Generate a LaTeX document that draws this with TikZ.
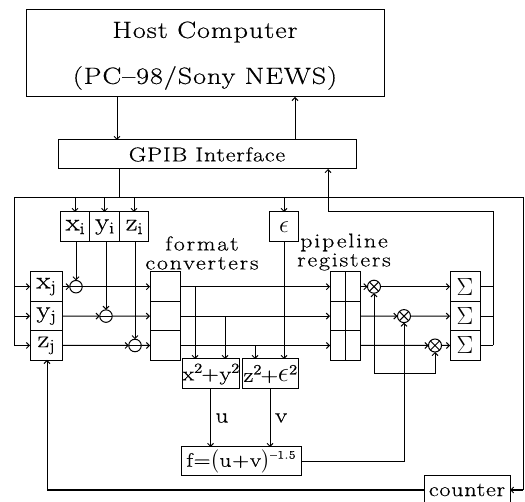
\documentclass[tikz,border=0pt]{standalone}
\usepackage{amsmath,amssymb}
\usepackage{fontspec}
\setmainfont{Latin Modern Roman}[FakeStretch=1.2,LetterSpace=4,FakeBold=0.5]
\usepackage{tikz}
\usetikzlibrary{positioning,calc,arrows.meta}
\newcommand{\epssign}{\scalebox{1.35}{$\epsilon$}}
\tikzset{
  >={Straight Barb[length=3pt,width=6pt]},
  box/.style={draw,inner sep=0pt,outer sep=0pt,align=center},
  regcell/.style={box,minimum width=30pt,minimum height=29.4pt,font=\fontsize{24}{26}\selectfont},
  widecell/.style={box,minimum width=29.5pt,minimum height=30pt,font=\fontsize{24}{26}\selectfont},
  subop/.style={circle,draw,minimum size=12.5pt,inner sep=0pt,outer sep=0pt,
    path picture={\draw (path picture bounding box.west) -- (path picture bounding box.east);}},
  mulop/.style={circle,draw,minimum size=13pt,inner sep=0pt,outer sep=0pt,
    path picture={\draw (path picture bounding box.north west) -- (path picture bounding box.south east)
      (path picture bounding box.south west) -- (path picture bounding box.north east);}},
  lbl/.style={inner sep=0pt,outer sep=0pt,align=center},
  hostlbl/.style={lbl,font=\fontsize{23.5}{26}\selectfont},
  gpiblbl/.style={font=\fontsize{20}{22}\selectfont},
  ctrlbl/.style={font=\fontsize{20}{22}\selectfont},
  squarelbl/.style={font=\fontsize{20}{22}\selectfont},
  powlbl/.style={font=\fontsize{19.5}{21}\selectfont},
  grouplbl/.style={lbl,font=\fontsize{20}{19}\selectfont\addfontfeature{LetterSpace=9}}
}
\begin{document}
\begin{tikzpicture}[x=1pt,y=-1pt,line width=1pt,node distance=0pt,font=\fontsize{21}{23}\selectfont]
\useasboundingbox (0,0) rectangle (525,502);
\clip (0,0) rectangle (525,502);
% top
\node[box,minimum width=358pt,minimum height=87pt] (host) at (205,53.5) {};
\node[hostlbl] (hostname) at (205,32) {Host Computer};
\node[hostlbl] (hosttype) at (205,78) {(PC--98/Sony NEWS)};
\node[box,gpiblbl,minimum width=298pt,minimum height=29pt] (gpib) at (207,154.5) {GPIB Interface};
% i-particle registers
\node[widecell] (xi) at (75,227) {x$_{\mathrm{i}}$};
\node[widecell,right=of xi] (yi) {y$_{\mathrm{i}}$};
\node[widecell,right=of yi] (zi) {z$_{\mathrm{i}}$};
\node[widecell] (eps) at (284,227) {$\epsilon$};
% j-particle registers
\node[regcell,minimum width=32pt] (xj) at (46,286.7) {x$_{\mathrm{j}}$};
\node[regcell,minimum width=32pt,below=of xj] (yj) {y$_{\mathrm{j}}$};
\node[regcell,minimum width=32pt,below=of yj] (zj) {z$_{\mathrm{j}}$};
\node[subop] (subx) at (76,286.7) {};
\node[subop] (suby) at (106,316.1) {};
\node[subop] (subz) at (135,345.5) {};
% format converters
\node[regcell] (convx) at (165,286.7) {};
\node[regcell,below=of convx] (convy) {};
\node[regcell,below=of convy] (convz) {};
\node[grouplbl] (convlbl) at (202,253) {format\\converters};
% pipeline registers
\node[regcell,minimum width=15pt] (pipeax) at (337.5,286.7) {};
\node[regcell,minimum width=15pt,below=of pipeax] (pipeay) {};
\node[regcell,minimum width=15pt,below=of pipeay] (pipeaz) {};
\node[regcell,minimum width=15pt,right=of pipeax] (pipebx) {};
\node[regcell,minimum width=15pt,right=of pipeay] (pipeby) {};
\node[regcell,minimum width=15pt,right=of pipeaz] (pipebz) {};
\node[grouplbl] (pipelbl) at (344,252) {pipeline\\registers};
% force pipeline
\node[box,squarelbl,minimum width=57pt,minimum height=30pt] (sqxy) at (210.5,374) {x$^{\mathrm{2}}$+y$^{\mathrm{2}}$};
\node[box,squarelbl,minimum width=56pt,minimum height=30pt] (sqze) at (270,374) {z$^{\mathrm{2}}$+\epssign$^{\mathrm{2}}$};
\node[box,powlbl,minimum width=120pt,minimum height=29pt] (pow) at (241,461.5) {f=$\big($u+v$\big)$\raisebox{8pt}{\fontsize{11.5}{12}\selectfont --1.5}};
\node[mulop] (mulx) at (374,286.7) {};
\node[mulop] (muly) at (404,316.1) {};
\node[mulop] (mulz) at (435,345.5) {};
\node[regcell] (sumx) at (465,286.7) {$\Sigma$};
\node[regcell,below=of sumx] (sumy) {$\Sigma$};
\node[regcell,below=of sumy] (sumz) {$\Sigma$};
\node[box,ctrlbl,minimum width=86pt,minimum height=28pt] (counter) at (467,490) {counter};
% wire corners
\coordinate (busl) at (14,198);
\coordinate (busr) at (523,198);
\coordinate (busin) at (119,198);
\coordinate (retr) at (493,212);
\coordinate (retl) at (328,212);
\coordinate (fbk) at (404,374);
\coordinate (tapx) at (195,359);
\coordinate (tapy) at (225,359);
\coordinate (tapz) at (255,359);
\coordinate (ctrin) at (47,360);
\coordinate (hostdown) at (117,97);
\coordinate (hostup) at (295,97);
% host link
\draw[->] (hostdown) -- (hostdown |- gpib.north);
\draw[->] (hostup |- gpib.north) -- (hostup);
% bus
\draw (busin |- gpib.south) -- (busin);
\draw (busl |- zj.west) -- (busl) -- (busr) -- (busr |- counter.east);
\draw[->] (busr |- counter.east) -- (counter.east);
\draw[->] (busl |- xj.west) -- (xj.west);
\draw[->] (busl |- yj.west) -- (yj.west);
\draw[->] (busl |- zj.west) -- (zj.west);
\draw[->] (xi.north |- busl) -- (xi.north);
\draw[->] (yi.north |- busl) -- (yi.north);
\draw[->] (zi.north |- busl) -- (zi.north);
\draw[->] (eps.north |- busl) -- (eps.north);
% differences
\draw[->] (subx.north |- xi.south) -- (subx.north);
\draw[->] (suby.north |- yi.south) -- (suby.north);
\draw[->] (subz.north |- zi.south) -- (subz.north);
\draw[->] (xj.east) -- (subx.west);
\draw[->] (yj.east) -- (suby.west);
\draw[->] (zj.east) -- (subz.west);
\draw[->] (subx.east) -- (convx.west);
\draw[->] (suby.east) -- (convy.west);
\draw[->] (subz.east) -- (convz.west);
\draw[->] (convx.east) -- (pipeax.west);
\draw[->] (convy.east) -- (pipeay.west);
\draw[->] (convz.east) -- (pipeaz.west);
% squares
\draw[->] (tapx |- convx.east) -- (tapx);
\draw[->] (tapy |- convy.east) -- (tapy);
\draw[->] (tapz |- convz.east) -- (tapz);
\draw[->] (eps.south) -- (eps.south |- sqze.north);
\draw[->] (sqxy.south) -- node[right=5pt,lbl] (ulbl) {u} (sqxy.south |- pow.north);
\draw[->] (sqze.south) -- node[right=5pt,lbl] (vlbl) {v} (sqze.south |- pow.north);
% products
\draw[->] (pipebx.east) -- (mulx.west);
\draw[->] (pipeby.east) -- (muly.west);
\draw[->] (pipebz.east) -- (mulz.west);
\draw[->] (pow.east) -| (muly.south);
\draw[->] (fbk) -| (mulx.south);
\draw[->] (fbk) -| (mulz.south);
\draw[->] (mulx.east) -- (sumx.west);
\draw[->] (muly.east) -- (sumy.west);
\draw[->] (mulz.east) -- (sumz.west);
% accumulators back to interface
\draw (sumx.east) -- (retr |- sumx.east);
\draw (sumy.east) -- (retr |- sumy.east);
\draw (sumz.east) -- (retr |- sumz.east);
\draw[->] (retr |- sumz.east) -- (retr) -- (retl) -- (retl |- gpib.south);
% counter
\draw[->] (counter.west) -- (ctrin |- counter.west) -- (ctrin);
\end{tikzpicture}
\end{document}
